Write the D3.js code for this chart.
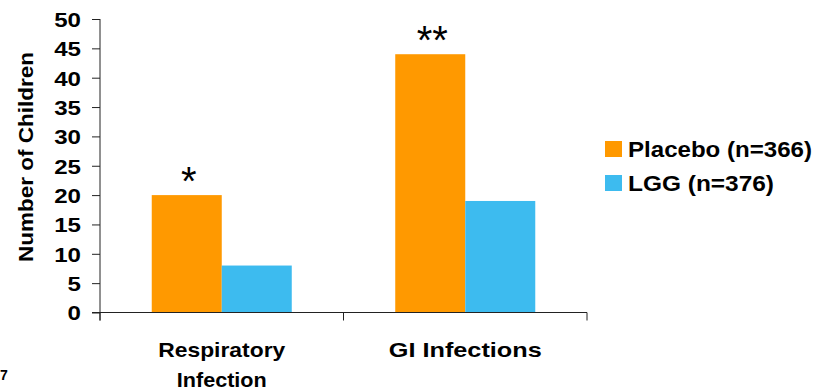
<!DOCTYPE html>
<html>
<head>
<meta charset="utf-8">
<script src="https://cdn.jsdelivr.net/npm/d3@7"></script>
<style>
  html, body { margin: 0; padding: 0; background: #fff; }
  svg { display: block; }
  text { font-family: "Liberation Sans", Arial, sans-serif; font-weight: bold; fill: #000; }
</style>
</head>
<body>
<svg id="chart" width="821" height="391"></svg>
<script>
// Infection counts by treatment arm
const categories = ["Respiratory Infection", "GI Infections"];
const categoryLines = [["Respiratory", "Infection"], ["GI Infections"]];
const series = ["Placebo (n=366)", "LGG (n=376)"];
const placeboValues = [20, 44];
const lggValues = [8, 19];
const significance = ["*", "**"];
const yTicks = [0, 5, 10, 15, 20, 25, 30, 35, 40, 45, 50];
const yLabel = "Number of Children";

const colors = ["#FF9900", "#3DBBEF"];
const valuesBySeries = [placeboValues, lggValues];

const svg = d3.select("#chart");
const plotLeft = 100, plotRight = 587, plotTop = 19, plotBottom = 312.5;

const y = d3.scaleLinear().domain([0, 50]).range([plotBottom, plotTop]);
const x0 = d3.scaleBand().domain(categories).range([plotLeft, plotRight]);
const groupW = x0.bandwidth() * 0.575;
const x1 = d3.scaleBand().domain(series).range([0, groupW]);

// bars and significance marks
categories.forEach((cat, ci) => {
  const gx = x0(cat) + (x0.bandwidth() - groupW) / 2;
  series.forEach((s, si) => {
    const v = valuesBySeries[si][ci];
    svg.append("rect")
      .attr("x", gx + x1(s))
      .attr("y", y(v))
      .attr("width", x1.bandwidth())
      .attr("height", y(0) - y(v))
      .attr("fill", colors[si]);
  });
  svg.append("text")
    .attr("x", gx + x1(series[0]) + x1.bandwidth() / 2 + 2)
    .attr("y", y(placeboValues[ci]))
    .attr("text-anchor", "middle")
    .style("font-weight", "normal")
    .style("font-size", "40px")
    .text(significance[ci]);
});

// y axis
const yAxis = d3.axisLeft(y).tickValues(yTicks).tickSize(8).tickPadding(11).tickFormat(d3.format("d"));
const gy = svg.append("g").attr("transform", `translate(${plotLeft},0)`).call(yAxis);
gy.select(".domain").attr("d", `M0,${plotTop}V${plotBottom + 8}`).attr("stroke", "#222");
gy.selectAll(".tick line").attr("stroke", "#222");
gy.selectAll(".tick text")
  .style("font-size", "20.5px")
  .attr("dy", "0.36em")
  .each(function (d) {
    d3.select(this).attr("textLength", String(d).length * 13.4).attr("lengthAdjust", "spacingAndGlyphs");
  });

// x axis
const gxAxis = svg.append("g").attr("transform", `translate(0,${plotBottom})`);
gxAxis.append("line").attr("x1", plotLeft - 8).attr("x2", plotRight).attr("stroke", "#222");
[plotLeft, (plotLeft + plotRight) / 2, plotRight].forEach(px => {
  gxAxis.append("line").attr("x1", px).attr("x2", px).attr("y1", 0).attr("y2", 8).attr("stroke", "#222");
});

// category labels
const labelWidths = { "Respiratory": 127, "Infection": 90, "GI Infections": 153 };
categories.forEach((cat, ci) => {
  const cx = x0(cat) + x0.bandwidth() / 2;
  categoryLines[ci].forEach((line, li) => {
    svg.append("text")
      .attr("x", cx)
      .attr("y", 357 + li * 30)
      .attr("text-anchor", "middle")
      .style("font-size", "21px")
      .attr("textLength", labelWidths[line])
      .attr("lengthAdjust", "spacingAndGlyphs")
      .text(line);
  });
});

// y label
svg.append("text")
  .attr("transform", "translate(33,157) rotate(-90)")
  .attr("text-anchor", "middle")
  .style("font-size", "21px")
  .attr("textLength", 210)
  .attr("lengthAdjust", "spacingAndGlyphs")
  .text(yLabel);

// legend
const legendWidths = [184, 146];
series.forEach((s, si) => {
  const ly = 141 + si * 34;
  svg.append("rect").attr("x", 605).attr("y", ly).attr("width", 17).attr("height", 16).attr("fill", colors[si]);
  svg.append("text")
    .attr("x", 628).attr("y", ly + 16)
    .style("font-size", "22px")
    .attr("textLength", legendWidths[si])
    .attr("lengthAdjust", "spacingAndGlyphs")
    .text(s);
});

// footnote mark at the lower left edge
svg.append("text").attr("x", 0).attr("y", 380).style("font-size", "14px").text("7");
</script>
</body>
</html>
